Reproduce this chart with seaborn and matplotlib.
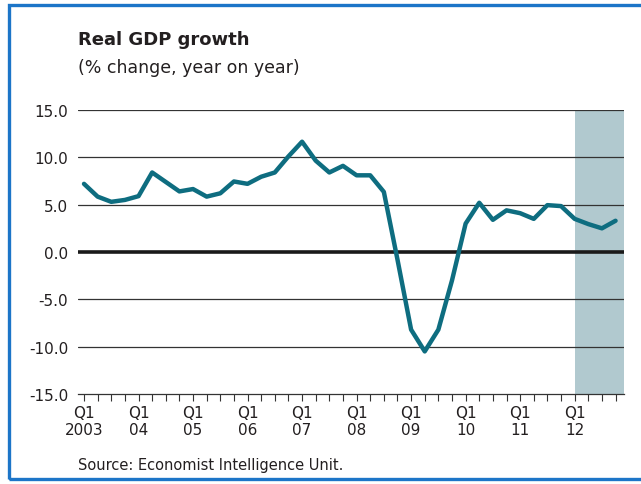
import matplotlib
matplotlib.use("Agg")
import matplotlib.pyplot as plt
import matplotlib.patches as patches
from matplotlib import font_manager
import numpy as np
import pandas as pd
import seaborn as sns

# quarterly data, 2003 Q1 .. 2012 Q4
years = ["2003", "04", "05", "06", "07", "08", "09", "10", "11", "12"]
quarters = ["Q1", "Q2", "Q3", "Q4"]
growth = [7.2, 5.85, 5.3, 5.5,
          5.9, 8.4, 7.4, 6.4,
          6.65, 5.85, 6.2, 7.45,
          7.2, 7.95, 8.4, 10.1,
          11.65, 9.65, 8.4, 9.1,
          8.1, 8.1, 6.35, -0.8,
          -8.2, -10.5, -8.2, -3.0,
          3.0, 5.2, 3.4, 4.4,
          4.1, 3.5, 4.95, 4.85,
          3.5, 2.95, 2.5, 3.3]
forecast_from = "12"  # shaded from Q1 of this year
y_ticks = [15.0, 10.0, 5.0, 0.0, -5.0, -10.0, -15.0]

labels = [q + " " + y for y in years for q in quarters]
df = pd.DataFrame({"quarter": labels, "growth": growth})
df["pos"] = range(len(df))

sns.set_style("white")
names = {f.name for f in font_manager.fontManager.ttflist}
narrow = "Liberation Sans Narrow" if "Liberation Sans Narrow" in names else "DejaVu Sans"
plt.rcParams["font.family"] = [narrow, "DejaVu Sans"]

text_col = "#231f20"
line_col = "#0e6d80"
shade_col = "#b1c9cf"
grid_col = "#333333"

fig = plt.figure(figsize=(6.41, 4.85), dpi=100)
ax = fig.add_axes([78 / 641, 90 / 485, 546 / 641, 284 / 485])

n = len(df)
ax.set_xlim(-0.44, n - 0.38)
ax.set_ylim(min(y_ticks), max(y_ticks))

# forecast shading
start = labels.index("Q1 " + forecast_from)
ax.axvspan(start, n - 0.38, color=shade_col, lw=0, zorder=0)

for v in y_ticks:
    if v == 0:
        ax.axhline(v, color="#1a1a1a", lw=2.6, zorder=2)
    elif v != min(y_ticks):
        ax.axhline(v, color=grid_col, lw=0.9, zorder=1)

sns.lineplot(data=df, x="pos", y="growth", color=line_col, lw=3.2, ax=ax, zorder=3,
             solid_joinstyle="round", solid_capstyle="round")

for s in ["top", "right", "left"]:
    ax.spines[s].set_visible(False)
ax.spines["bottom"].set_color(grid_col)
ax.spines["bottom"].set_linewidth(0.9)

ax.set_yticks(y_ticks)
ax.set_yticklabels([f"{v:.1f}" for v in y_ticks])
ax.tick_params(axis="y", length=0, pad=7, labelsize=11, labelcolor=text_col)

major = [labels.index("Q1 " + y) for y in years]
ax.set_xticks(major)
ax.set_xticklabels(["Q1\n" + y for y in years], linespacing=1.15)
ax.set_xticks(df["pos"], minor=True)
ax.tick_params(axis="x", which="both", direction="out", length=5, width=0.8,
               color=grid_col, bottom=True)
ax.tick_params(axis="x", which="major", pad=3, labelsize=11, labelcolor=text_col)
ax.set_xlabel("")
ax.set_ylabel("")

fig.text(78 / 641, 1 - 40 / 485, "Real GDP growth", fontsize=13,
         fontweight="bold", color=text_col, va="center")
fig.text(78 / 641, 1 - 68 / 485, "(% change, year on year)", fontsize=12.5,
         color=text_col, va="center")
fig.text(78 / 641, 1 - 466 / 485, "Source: Economist Intelligence Unit.",
         fontsize=10.5, color=text_col, va="center")

border = patches.Rectangle((8.5 / 641, 5.5 / 485), 700 / 641, 474 / 485,
                           transform=fig.transFigure, fill=False,
                           edgecolor="#1c75c8", lw=2.4, clip_on=False)
fig.patches.append(border)

fig.savefig("out.png", dpi=100)
